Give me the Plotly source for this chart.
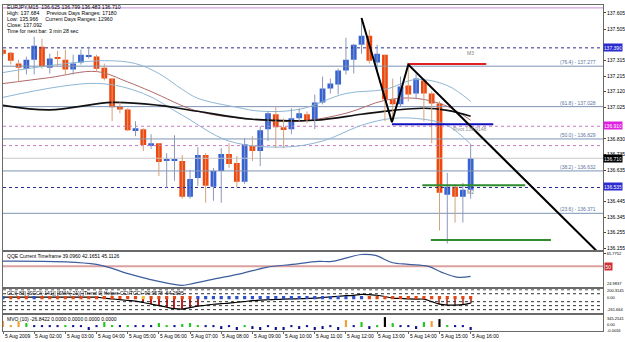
import plotly.graph_objects as go

# ---------------- data ----------------
hour_bars = [0, 4, 8, 12, 16, 20, 24, 28, 32, 36, 40, 44, 48, 52, 56, 60]
hour_labels = ["5 Aug 2009", "5 Aug 02:00", "5 Aug 03:00", "5 Aug 04:00", "5 Aug 05:00",
               "5 Aug 06:00", "5 Aug 07:00", "5 Aug 08:00", "5 Aug 09:00", "5 Aug 10:00",
               "5 Aug 11:00", "5 Aug 12:00", "5 Aug 13:00", "5 Aug 14:00", "5 Aug 15:00",
               "5 Aug 16:00"]

opens = [137.379, 137.360, 137.293, 137.262, 137.317, 137.397, 137.268, 137.330, 137.317, 137.256,
         137.299, 137.339, 137.336, 137.268, 137.201, 137.030, 137.011, 136.883, 136.889, 136.791,
         136.803, 136.696, 136.696, 136.693, 136.473, 136.589, 136.730, 136.534, 136.632, 136.736,
         136.681, 136.565, 136.785, 136.754, 136.889, 136.981, 136.901, 136.889, 136.956, 136.981,
         136.944, 137.054, 137.140, 137.164, 137.250, 137.317, 137.409, 137.464, 137.299, 137.348,
         137.073, 137.042, 137.158, 137.109, 137.189, 137.109, 137.048, 136.485, 136.534, 136.473,
         136.516]
highs = [137.385, 137.366, 137.317, 137.336, 137.458, 137.446, 137.354, 137.372, 137.379, 137.348,
         137.379, 137.397, 137.348, 137.293, 137.201, 137.054, 137.018, 136.938, 136.895, 136.858,
         136.803, 136.742, 136.852, 136.730, 136.638, 136.779, 136.742, 136.650, 136.773, 136.803,
         136.724, 136.834, 136.846, 136.907, 136.999, 137.030, 136.956, 137.018, 137.018, 136.999,
         137.103, 137.213, 137.201, 137.262, 137.452, 137.415, 137.574, 137.501, 137.409, 137.348,
         137.201, 137.213, 137.287, 137.232, 137.201, 137.121, 137.060, 136.620, 136.552, 136.558,
         136.797]
lows = [137.342, 137.287, 137.183, 137.226, 137.226, 137.262, 137.232, 137.274, 137.226, 137.226,
        137.287, 137.324, 137.244, 137.189, 136.938, 136.987, 136.877, 136.846, 136.754, 136.767,
        136.601, 136.528, 136.571, 136.461, 136.461, 136.540, 136.436, 136.448, 136.436, 136.650,
        136.528, 136.552, 136.693, 136.662, 136.816, 136.773, 136.773, 136.858, 136.938, 136.926,
        136.889, 137.042, 137.109, 137.103, 137.226, 137.232, 137.354, 137.293, 137.244, 136.938,
        136.938, 137.030, 137.060, 137.073, 136.938, 136.803, 136.265, 136.185, 136.314, 136.314,
        136.461]
closes = [137.354, 137.311, 137.268, 137.317, 137.403, 137.274, 137.324, 137.324, 137.256, 137.293,
          137.348, 137.342, 137.262, 137.201, 137.024, 137.011, 136.883, 136.895, 136.791, 136.803,
          136.687, 136.702, 136.702, 136.473, 136.583, 136.730, 136.540, 136.632, 136.736, 136.675,
          136.565, 136.797, 136.754, 136.883, 136.987, 136.901, 136.889, 136.956, 136.987, 136.944,
          137.054, 137.140, 137.171, 137.250, 137.317, 137.409, 137.464, 137.311, 137.354, 137.073,
          137.042, 137.152, 137.103, 137.201, 137.109, 137.048, 136.497, 136.534, 136.473, 136.516,
          136.710]

# indicator lines on the price pane (bar index, price)
ma_x = [0, 6, 14, 20, 25, 32, 40, 46, 50, 54, 57, 60]
ma_y = [137.036, 137.008, 137.054, 137.036, 136.999, 136.950, 136.944, 136.981, 137.005, 137.018, 137.005, 136.969]
mid_x = [0, 6, 12, 16, 19, 25, 32, 38, 44, 49, 53, 57, 60]
mid_y = [137.170, 137.207, 137.244, 137.180, 137.121, 136.999, 136.950, 136.938, 136.987, 137.067, 137.079, 137.030, 136.944]
up_x = [0, 6, 13, 17, 20, 23, 25, 30, 33, 38, 44, 49, 53, 57, 60]
up_y = [137.238, 137.281, 137.311, 137.293, 137.232, 137.134, 137.079, 137.024, 137.000, 137.011, 137.109, 137.134, 137.195, 137.158, 137.060]
lo_x = [0, 12, 18, 23, 29, 36, 41, 46, 50, 54, 57, 60]
lo_y = [137.085, 137.171, 137.109, 136.975, 136.816, 136.779, 136.816, 136.913, 136.956, 136.950, 136.913, 136.797]

zig_x = [46, 49.9, 52, 76.1]
zig_y = [137.574, 136.932, 137.287, 136.142]

fib_levels = [137.277, 137.028, 136.829, 136.632, 136.371]
fib_texts = ["(76.4) - 137.277", "(61.8) - 137.028", "(50.0) - 136.829", "(38.2) - 136.632", "(23.6) - 136.371"]
navy_dotted = [137.390, 136.530]
pink_dotted = [136.907, 136.788]
top_level = 137.636
bid_level = 136.710

red_seg = ([52, 62], [137.290, 137.290])
blue_seg = ([49.9, 62.9], [136.920, 136.920])
green_seg1 = ([53.8, 67.0], [136.544, 136.544])
green_seg2 = ([54.9, 70.3], [136.207, 136.207])

price_ticks = [137.605, 137.505, 137.315, 137.215, 137.120, 137.025, 136.830, 136.735, 136.635,
               136.445, 136.345, 136.255, 136.155]
price_boxes = [(137.390, "137.390", "#2b2bd0"), (136.910, "136.910", "#e020e0"),
               (136.710, "136.710", "#000000"), (136.535, "136.535", "#2b2bd0")]

# QQE pane
qqe_x = [0, 12, 15.9, 18.8, 22.9, 23.9, 26.9, 30.7, 33.8, 37.1, 40.5, 42.2, 46, 47.8, 49.9, 52, 54.6, 56.3, 58.4, 60]
qqe_y = [56.3, 52.2, 41.1, 33.6, 26.2, 27.5, 33.6, 41.1, 48.5, 52.2, 55.9, 55.9, 64.5, 63.3, 54.6, 52.2, 49.7, 42.3, 36.1, 37.3]
qqe_level = 50
qqe_max, qqe_min = 65.7752, 24.9837

# CCI pane
cci_vals = [12, 12, 12, 12, 12, 12, 12, 12, 12, 12, 12, 12, 12, -12, -30, -50, -70, -87, -120, -160,
            -200, -240, -275, -287, -250, -212, -190, -165, -150, -137, -115, -95, -75, -60, -52, -45,
            -37, -30, -25, -18, -12, 5, 20, 35, 50, 60, 85, 75, 62, 30, -12, -20, -30, -35, -37, -100,
            -162, -187, -187, -175, -137]
cci_dot_cols = (["B"] + ["R"] * 3 + ["B"] + ["R"] * 13 + ["Y"] + ["R"] * 6 + ["B"] * 22 + ["R"] * 14)
cci_stick_bars = [18, 19, 20, 21, 22, 23, 24, 25, 56, 57, 58, 59, 60]
cci_levels = [200, 100, -100, -200, -300]

# MVO pane
mvo_vals = [174, 58, 174, 116, 29, 29, 29, 29, 58, 29, 29, -87, 29, 145, 58, 29, 58, 29, 29, 29,
            116, 58, 29, 87, 116, 58, 29, 29, -58, 29, -87, 58, -58, -87, 29, -87, -87, 29, -58, 29,
            -87, -58, 29, -87, 203, 29, 145, -58, 58, 290, 116, 29, 29, -58, 145, 174, 232, 58, 29, 29,
            -87]
mvo_cols = ["O", "O", "O", "G", "N", "N", "N", "N", "G", "N", "N", "N", "N", "G", "G", "N", "G", "N", "N", "N",
            "G", "G", "N", "G", "G", "G", "N", "N", "N", "N", "N", "G", "N", "N", "N", "N", "N", "N", "N", "N",
            "N", "N", "N", "N", "O", "N", "G", "N", "G", "K", "G", "N", "N", "N", "G", "O", "K", "G", "N", "N",
            "N"]
mvo_top_label = "345.2541"

# ---------------- layout helpers ----------------
W, H = 625, 342
ML, MR, MT, MB = 3, 20, 0, 11
PH = H - MT - MB
XR = [0, 76.98]
FONT = "Liberation Sans"


def py(px):
    return (PH - (px - MT)) / PH


idx = list(range(len(opens)))
fig = go.Figure()

# ---- price pane ----
full = [XR[0], XR[1]]
for lv in fib_levels:
    fig.add_trace(go.Scatter(x=full, y=[lv, lv], mode="lines", line=dict(color="#7d93b4", width=1),
                             xaxis="x", yaxis="y", hoverinfo="skip"))
fig.add_trace(go.Scatter(x=full, y=[bid_level, bid_level], mode="lines", line=dict(color="#c8c8c8", width=1),
                         xaxis="x", yaxis="y"))
fig.add_trace(go.Scatter(x=full, y=[top_level, top_level], mode="lines", line=dict(color="#c58ad6", width=1),
                         xaxis="x", yaxis="y"))
for lv in navy_dotted:
    fig.add_trace(go.Scatter(x=full, y=[lv, lv], mode="lines", line=dict(color="#2a2a90", width=1, dash="dot"),
                             xaxis="x", yaxis="y"))
for lv in pink_dotted:
    fig.add_trace(go.Scatter(x=full, y=[lv, lv], mode="lines", line=dict(color="#c878c8", width=1, dash="dot"),
                             xaxis="x", yaxis="y"))

# bands & MA
fig.add_trace(go.Scatter(x=up_x, y=up_y, mode="lines", line=dict(color="#8db6d4", width=1, shape="spline"),
                         xaxis="x", yaxis="y"))
fig.add_trace(go.Scatter(x=lo_x, y=lo_y, mode="lines", line=dict(color="#8db6d4", width=1, shape="spline"),
                         xaxis="x", yaxis="y"))
fig.add_trace(go.Scatter(x=mid_x, y=mid_y, mode="lines", line=dict(color="#b06a6a", width=1, shape="spline"),
                         xaxis="x", yaxis="y"))
fig.add_trace(go.Scatter(x=ma_x, y=ma_y, mode="lines", line=dict(color="#111111", width=1.6, shape="spline"),
                         xaxis="x", yaxis="y"))

# wicks
up_col, dn_col = "#3563d6", "#f2460d"
wx_u, wy_u, wx_d, wy_d = [], [], [], []
for i in idx:
    if closes[i] >= opens[i]:
        wx_u += [i, i, None]; wy_u += [lows[i], highs[i], None]
    else:
        wx_d += [i, i, None]; wy_d += [lows[i], highs[i], None]
fig.add_trace(go.Scatter(x=wx_u, y=wy_u, mode="lines", line=dict(color="#8a98b8", width=1), xaxis="x", yaxis="y"))
fig.add_trace(go.Scatter(x=wx_d, y=wy_d, mode="lines", line=dict(color="#d1a27e", width=1), xaxis="x", yaxis="y"))

# bodies
bases = [min(o, c) for o, c in zip(opens, closes)]
heights = [max(abs(c - o), 0.004) for o, c in zip(opens, closes)]
cols = [up_col if c >= o else dn_col for o, c in zip(opens, closes)]
fig.add_trace(go.Bar(x=idx, y=heights, base=bases, marker=dict(color=cols, line=dict(width=0)),
                     width=0.74, xaxis="x", yaxis="y"))

# drawn objects
fig.add_trace(go.Scatter(x=red_seg[0], y=red_seg[1], mode="lines", line=dict(color="#e02020", width=2), xaxis="x", yaxis="y"))
fig.add_trace(go.Scatter(x=blue_seg[0], y=blue_seg[1], mode="lines", line=dict(color="#1010c0", width=2), xaxis="x", yaxis="y"))
fig.add_trace(go.Scatter(x=green_seg1[0], y=green_seg1[1], mode="lines", line=dict(color="#2e8b2e", width=2), xaxis="x", yaxis="y"))
fig.add_trace(go.Scatter(x=green_seg2[0], y=green_seg2[1], mode="lines", line=dict(color="#2e8b2e", width=2), xaxis="x", yaxis="y"))
fig.add_trace(go.Scatter(x=zig_x, y=zig_y, mode="lines", line=dict(color="#000000", width=2), xaxis="x", yaxis="y"))

# ---- QQE pane ----
fig.add_trace(go.Scatter(x=full, y=[qqe_level, qqe_level], mode="lines", line=dict(color="#dca0a0", width=2),
                         xaxis="x2", yaxis="y2"))
fig.add_trace(go.Scatter(x=qqe_x, y=qqe_y, mode="lines", line=dict(color="#3d5d9e", width=1.2, shape="spline"),
                         xaxis="x2", yaxis="y2"))

# ---- CCI pane ----
for lv in cci_levels:
    fig.add_trace(go.Scatter(x=full, y=[lv, lv], mode="lines", line=dict(color="#333333", width=1, dash="dot"),
                             xaxis="x3", yaxis="y3"))
stick_cols = ["#c81e1e" if b < 40 else "#b46060" for b in cci_stick_bars]
fig.add_trace(go.Bar(x=cci_stick_bars, y=[cci_vals[b] for b in cci_stick_bars], marker=dict(color=stick_cols, line=dict(width=0)),
                     width=0.14, xaxis="x3", yaxis="y3"))
fig.add_trace(go.Scatter(x=idx, y=cci_vals, mode="lines", line=dict(color="#000000", width=1.2, shape="spline"),
                         xaxis="x3", yaxis="y3"))
dot_map = {"B": "#3050c8", "R": "#e04818", "Y": "#f0c040"}
fig.add_trace(go.Scatter(x=idx, y=[0] * len(idx), mode="markers",
                         marker=dict(symbol="square", size=3.2, color=[dot_map[c] for c in cci_dot_cols], line=dict(width=0)),
                         xaxis="x3", yaxis="y3"))

# ---- MVO pane ----
mvo_map = {"O": "#f0a030", "G": "#22c822", "N": "#101090", "K": "#000000"}
fig.add_trace(go.Bar(x=idx, y=mvo_vals, marker=dict(color=[mvo_map[c] for c in mvo_cols], line=dict(width=0)),
                     width=0.28, xaxis="x4", yaxis="y4"))

# ---------------- axes ----------------
axcommon = dict(showgrid=False, zeroline=False, showline=True, mirror=True, linecolor="#6a6a6a", linewidth=1,
                range=XR, fixedrange=True)
tickfont = dict(family=FONT, size=5, color="#000000")
small = dict(family=FONT, size=4, color="#000000")
doms = {"main": [py(250), py(3)], "qqe": [py(287), py(252)], "cci": [py(313), py(289)], "mvo": [0, py(315)]}

fig.update_layout(
    width=W, height=H, margin=dict(l=ML, r=MR, t=MT, b=MB),
    paper_bgcolor="white", plot_bgcolor="white", showlegend=False, barmode="overlay",
    xaxis=dict(anchor="y", showticklabels=False, ticks="", **axcommon),
    xaxis2=dict(anchor="y2", showticklabels=False, ticks="", **axcommon),
    xaxis3=dict(anchor="y3", showticklabels=False, ticks="", **axcommon),
    xaxis4=dict(anchor="y4", showticklabels=False, ticks="outside", ticklen=2, tickcolor="#6a6a6a",
                tickvals=hour_bars, **axcommon),
    yaxis=dict(domain=doms["main"], anchor="x", side="right", range=[136.142, 137.654],
               tickvals=price_ticks, ticktext=[f"{v:.3f}" for v in price_ticks], ticks="outside", ticklen=2,
               tickfont=tickfont, showgrid=False, zeroline=False, showline=True, mirror=True, linecolor="#6a6a6a"),
    yaxis2=dict(domain=doms["qqe"], anchor="x2", side="right", range=[23.75, 67.01],
                tickvals=[qqe_max], ticktext=[f"{qqe_max:.4f}"], ticks="outside", ticklen=2,
                tickfont=small, showgrid=False, zeroline=False, showline=True, mirror=True, linecolor="#6a6a6a"),
    yaxis3=dict(domain=doms["cci"], anchor="x3", side="right", range=[-387.5, 212.5],
                tickvals=[], ticks="", showticklabels=False,
                showgrid=False, zeroline=False, showline=True, mirror=True, linecolor="#6a6a6a"),
    yaxis4=dict(domain=doms["mvo"], anchor="x4", side="right", range=[-116, 348],
                tickvals=[], ticks="", showticklabels=False,
                showgrid=False, zeroline=False, showline=True, mirror=True, linecolor="#6a6a6a"),
)

ann = []
hdr = ["EURJPY,M15  136.625 136.799 136.483 136.710",
       "High: 137.684     Previous Days Ranges: 17180",
       "Low: 135.966     Current Days Ranges: 12960",
       "Close: 137.092",
       "Time for next bar: 3 min 28 sec"]
for k, t in enumerate(hdr):
    ann.append(dict(x=0.003, y=py(4.7 + 6 * k), xref="paper", yref="paper", text=t, showarrow=False,
                    xanchor="left", yanchor="middle", font=dict(family=FONT, size=5.2, color="#000000")))
for t, ypx in [("QQE Current Timeframe 39.0960 42.1651 45.1126", 256),
               ("CCI(-83) [SCCI(-141)] [SMA(-21)] [Trend 0] Helper CCI/TCCI -90.9578 -64.2695", 292.5),
               ("MVO (10) -26.8422 0.0000 0.0000 0.0000 0.0000", 318.5)]:
    ann.append(dict(x=0.004, y=py(ypx), xref="paper", yref="paper", text=t, showarrow=False,
                    xanchor="left", yanchor="middle", font=dict(family=FONT, size=5, color="#000000")))
for lv, t in zip(fib_levels, fib_texts):
    ann.append(dict(x=76.4, y=lv, xref="x", yref="y", text=t, showarrow=False, xanchor="right", yanchor="bottom",
                    font=dict(family=FONT, size=5, color="#5a74a0"), yshift=-1))
ann.append(dict(x=60, y=navy_dotted[0], xref="x", yref="y", text="M3", showarrow=False, xanchor="center",
                yanchor="top", font=dict(family=FONT, size=5, color="#808080")))
ann.append(dict(x=60, y=navy_dotted[1], xref="x", yref="y", text="M2", showarrow=False, xanchor="center",
                yanchor="top", font=dict(family=FONT, size=5, color="#808080")))
ann.append(dict(x=57.5, y=blue_seg[1][0], xref="x", yref="y", text="Pivot 136.9148", showarrow=False,
                xanchor="left", yanchor="top", font=dict(family=FONT, size=5, color="#909090")))
for v, t, c in price_boxes:
    ann.append(dict(x=1, y=v, xref="paper", yref="y", text=t, showarrow=False, xanchor="left", yanchor="middle",
                    bgcolor=c, borderpad=0.5, width=17, font=dict(family=FONT, size=5, color="#ffffff")))
ann.append(dict(x=1, y=qqe_level, xref="paper", yref="y2", text="50", showarrow=False, xanchor="left",
                yanchor="middle", bgcolor="#d03030", borderpad=0.5, xshift=1,
                font=dict(family=FONT, size=5, color="#ffffff")))
# right-hand scale texts of the small panes (placed in pixel rows like the reference)
right_txt = [(f"{qqe_min:.4f}", 283.0), ("200.3145", 290.0), ("0.00", 297.5), ("-261.664", 309.0),
             (mvo_top_label, 318.0), ("0.00", 324.5), ("-0.0016", 330.0)]
for t, ypx in right_txt:
    ann.append(dict(x=1, y=py(ypx), xref="paper", yref="paper", text=t, showarrow=False, xanchor="left",
                    yanchor="middle", xshift=2, font=small))
for b, t in zip(hour_bars, hour_labels):
    ann.append(dict(x=max(b - 0.1, 0), y=py(336.5), xref="x4", yref="paper", text=t, showarrow=False,
                    xanchor="left", yanchor="middle", font=dict(family=FONT, size=5, color="#000000")))
fig.update_layout(annotations=ann)

fig.write_html("out.html")
